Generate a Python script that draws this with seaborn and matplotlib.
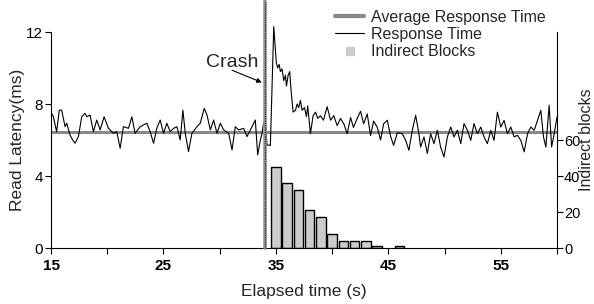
import numpy as np
import pandas as pd
import seaborn as sns
import matplotlib
matplotlib.use("Agg")
import matplotlib.pyplot as plt
from matplotlib.lines import Line2D

# ---------------- data ----------------
resp_t = [15.06, 15.21, 15.50, 15.74, 15.95, 16.25, 16.40, 16.69, 16.93, 17.14,
          17.44, 17.73, 18.03, 18.18, 18.47, 18.77, 19.07, 19.37, 19.72, 20.11,
          20.55, 20.85, 21.15, 21.44, 21.89, 22.19, 22.48, 22.93, 23.52, 23.82,
          24.12, 24.41, 24.71, 25.01, 25.30, 25.60, 25.90, 26.20, 26.49, 26.73,
          26.94, 27.23, 27.53, 27.98, 28.27, 28.63, 28.87, 29.17, 29.46, 29.76,
          30.06, 30.35, 30.80, 31.10, 31.39, 31.69, 32.13, 32.43, 32.88, 33.17,
          33.38, 33.62, 33.77, 33.92, 34.06, 34.21, 34.36, 34.51, 34.81,
          35.04, 35.16, 35.29, 35.40, 35.55, 35.70, 35.85, 35.94, 36.09, 36.23,
          36.35, 36.53, 36.74, 36.89, 37.03, 37.18, 37.33, 37.54, 37.72, 37.83,
          38.07, 38.31, 38.52, 38.72, 38.96, 39.23, 39.56, 39.86, 40.15, 40.45,
          40.75, 41.04, 41.34, 41.64, 41.90, 42.23, 42.53, 42.80, 43.12, 43.42,
          43.69, 44.02, 44.31, 44.58, 44.91, 45.20, 45.47, 45.80,
          46.24, 46.54, 46.83, 47.13, 47.43, 47.72, 47.87, 48.17, 48.47, 48.76,
          49.06, 49.36, 49.65, 49.95, 50.25, 50.55, 50.84, 51.14, 51.44, 51.73,
          52.03, 52.33, 52.62, 52.92, 53.22, 53.51, 53.81, 54.11, 54.40, 54.70,
          55.00, 55.29, 55.59, 55.89, 56.19, 56.48, 56.78, 57.08, 57.38, 57.67,
          57.97, 58.27, 58.56, 58.80, 59.01, 59.30, 59.52, 59.75, 60.00]
resp_ms = [7.48, 7.29, 6.46, 7.66, 7.66, 6.74, 6.93, 6.28, 6.00, 5.82,
           6.19, 7.29, 7.48, 7.29, 7.39, 6.46, 7.11, 6.56, 7.29, 6.65,
           6.37, 6.46, 5.54, 6.74, 6.65, 7.29, 6.37, 6.74, 6.93, 6.46,
           5.82, 6.65, 7.11, 6.37, 6.93, 6.46, 6.65, 6.74, 6.00, 7.66,
           6.37, 5.36, 6.37, 6.74, 6.93, 7.76, 7.39, 6.56, 7.11, 6.37,
           6.93, 6.56, 6.37, 5.45, 6.74, 6.56, 6.65, 6.19, 6.74, 7.11,
           5.17, 6.00, 6.37, 7.00, 7.02, 5.72, 5.72, 5.70, 12.30,
           10.30, 10.00, 10.20, 9.80, 9.95, 9.30, 9.60, 9.00, 9.60, 9.80,
           8.75, 7.55, 7.65, 8.00, 7.80, 8.20, 7.65, 7.80, 7.30, 7.90,
           6.35, 7.35, 7.55, 7.20, 7.35, 7.10, 7.85, 7.10, 7.35, 6.80,
           7.20, 6.90, 6.35, 7.25, 6.70, 7.20, 7.60, 6.90, 7.45, 6.25,
           7.05, 6.70, 6.00, 6.90, 7.10, 6.20, 5.70, 6.40,
           6.35, 5.98, 5.43, 6.54, 7.37, 6.35, 5.61, 6.17, 5.25, 6.35,
           5.80, 6.54, 5.61, 5.06, 6.17, 6.72, 6.17, 6.54, 5.80, 6.91,
           6.54, 5.98, 6.91, 6.35, 6.72, 6.17, 5.80, 6.54, 5.98, 7.55,
           6.72, 7.09, 6.35, 6.72, 6.17, 6.26, 5.98, 5.34, 6.35, 6.72,
           6.54, 7.09, 7.65, 6.17, 5.61, 7.93, 5.61, 6.35, 7.28]
avg_ms = 6.44
crash_t = 34.05

block_t = [35, 36, 37, 38, 39, 40, 41, 42, 43, 44, 46]
block_n = [45, 36, 32, 21, 17, 8, 4, 4, 4, 1, 1]

x_ticks = [15, 20, 25, 30, 35, 40, 45, 50, 55, 60]
x_labels = ["15", "", "25", "", "35", "", "45", "", "55", ""]
y_ticks = [0, 4, 8, 12]
y2_ticks = [0, 20, 40, 60]

# ---------------- style ----------------
sns.set_style("ticks")
plt.rcParams['font.family'] = ['Liberation Sans', 'DejaVu Sans']

fig = plt.figure(figsize=(5.94, 3.04), dpi=100)
ax = fig.add_axes([51 / 594, 1 - 248 / 304, (557 - 51) / 594, (248 - 32) / 304])
ax2 = ax.twinx()

resp_df = pd.DataFrame({"t": resp_t, "ms": resp_ms})
block_df = pd.DataFrame({"t": block_t, "n": block_n})

# bars on secondary axis
sns.barplot(data=block_df, x="t", y="n", native_scale=True, width=0.83,
            color="#cccccc", saturation=1, edgecolor="black", linewidth=1.0,
            ax=ax2, zorder=1)
ax2.set_ylim(0, 120)
ax2.set_yticks(y2_ticks)
ax2.set_ylabel("Indirect blocks", fontsize=11.5)
ax2.yaxis.set_label_coords(1.044, 0.5)

# primary axis content
ax.set_zorder(ax2.get_zorder() + 1)
ax.patch.set_visible(False)
ax.axhline(avg_ms, color="#888888", lw=2.2, zorder=2)
sns.lineplot(data=resp_df, x="t", y="ms", color="black", lw=0.8, ax=ax,
             zorder=3, clip_on=False)
ax.plot([crash_t, crash_t], [0, 13.75], color="#999999", lw=2.6,
        clip_on=False, zorder=4)
ax.plot([crash_t, crash_t], [0, 13.75], color="black", lw=1.0,
        linestyle=(0, (0.5, 0.8)), clip_on=False, zorder=5)

ax.annotate("Crash", xy=(33.75, 9.2), xytext=(31.1, 10.3), fontsize=14,
            ha="center", va="center",
            arrowprops=dict(arrowstyle="-|>", color="black", lw=0.8,
                            mutation_scale=7, relpos=(0.5, 0.05),
                            shrinkA=0, shrinkB=0, patchA=None))

ax.set_xlim(15, 60)
ax.set_ylim(0, 12)
ax.set_xticks(x_ticks)
ax.set_xticklabels(x_labels, fontweight="bold", fontsize=11)
ax.set_yticks(y_ticks)
ax.set_xlabel("Elapsed time (s)", fontsize=12.5)
ax.set_ylabel("Read Latency(ms)", fontsize=12.5)
ax.yaxis.set_label_coords(-0.052, 0.5)
ax.xaxis.set_label_coords(0.5, -0.165)

for a in (ax, ax2):
    a.tick_params(direction="out", length=4, width=0.8, labelsize=11,
                  colors="black", pad=2)
    a.spines["top"].set_visible(False)
    for s in ("left", "right", "bottom"):
        a.spines[s].set_linewidth(0.8)
        a.spines[s].set_color("black")
ax.spines["right"].set_visible(False)
ax2.spines["left"].set_visible(False)
ax2.spines["bottom"].set_visible(False)
ax2.spines["right"].set_visible(True)
ax2.set_xlabel("")
ax.tick_params(axis="x", labelsize=11, pad=4)
ax2.tick_params(axis="y", labelsize=10.5, pad=1)

handles = [Line2D([], [], color="#888888", lw=3),
           Line2D([], [], color="black", lw=0.8),
           Line2D([], [], color="#cccccc", marker="s", linestyle="none",
                  markersize=6)]
labels = ["Average Response Time", "Response Time", "Indirect Blocks"]
fig.legend(handles, labels, loc="upper left", bbox_to_anchor=(324 / 594, 1.005),
           frameon=False, fontsize=11.5, handlelength=1.8, handletextpad=0.45,
           labelspacing=0.15, borderpad=0.2)

fig.savefig("out.png", dpi=100)
